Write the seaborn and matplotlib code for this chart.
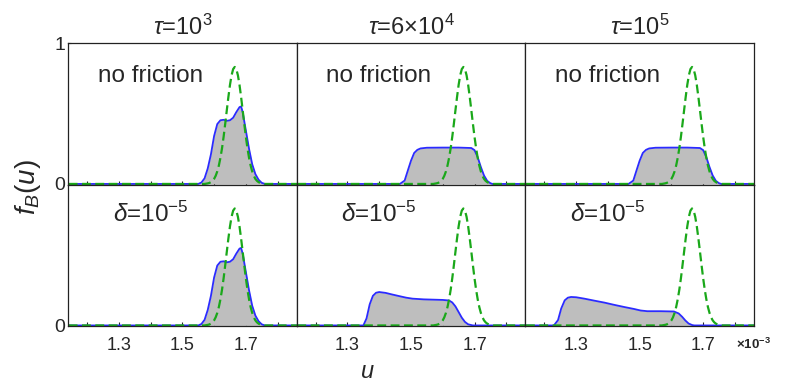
import matplotlib
matplotlib.use("Agg")
import matplotlib.pyplot as plt
import seaborn as sns

# u in units of 1e-3
green_u = [1.10, 1.57, 1.575, 1.58, 1.585, 1.59, 1.595, 1.60, 1.605, 1.61, 1.615,
           1.62, 1.625, 1.63, 1.635, 1.64, 1.645, 1.65, 1.655, 1.66, 1.665,
           1.67, 1.675, 1.68, 1.685, 1.69, 1.695, 1.70, 1.705, 1.71, 1.715,
           1.72, 1.725, 1.73, 1.735, 1.74, 1.745, 1.75, 1.755, 1.76, 1.90]
green_f = [0, 0, 0.002, 0.004, 0.007, 0.013, 0.022, 0.036, 0.058, 0.089, 0.131,
           0.186, 0.254, 0.335, 0.427, 0.523, 0.617, 0.703, 0.771, 0.815, 0.83,
           0.815, 0.771, 0.703, 0.617, 0.523, 0.427, 0.335, 0.254, 0.186, 0.131,
           0.089, 0.058, 0.036, 0.022, 0.013, 0.007, 0.004, 0.002, 0, 0]

# tau = 1e3 (same with and without friction)
early_u = [1.10, 1.55, 1.56, 1.57, 1.58, 1.59, 1.60, 1.61, 1.62, 1.63, 1.64,
           1.65, 1.66, 1.67, 1.68, 1.685, 1.69, 1.70, 1.71, 1.72, 1.73, 1.74,
           1.75, 1.76, 1.90]
early_f = [0, 0, 0.01, 0.04, 0.11, 0.21, 0.34, 0.425, 0.452, 0.455, 0.448,
           0.452, 0.47, 0.51, 0.545, 0.55, 0.51, 0.38, 0.25, 0.14, 0.07, 0.03,
           0.008, 0, 0]

# no friction, tau = 6e4 and 1e5
flat_u = [1.10, 1.465, 1.48, 1.49, 1.50, 1.51, 1.52, 1.53, 1.55, 1.60, 1.65,
          1.69, 1.70, 1.71, 1.72, 1.73, 1.74, 1.75, 1.757, 1.90]
flat_f = [0, 0, 0.024, 0.095, 0.165, 0.22, 0.242, 0.252, 0.257, 0.258, 0.258,
          0.255, 0.24, 0.19, 0.12, 0.06, 0.022, 0.005, 0, 0]

# delta = 1e-5, tau = 6e4
mid_u = [1.10, 1.35, 1.36, 1.37, 1.38, 1.39, 1.40, 1.42, 1.44, 1.465, 1.485,
         1.505, 1.54, 1.57, 1.60, 1.62, 1.63, 1.64, 1.65, 1.66, 1.67, 1.68,
         1.695, 1.90]
mid_f = [0, 0, 0.05, 0.15, 0.21, 0.232, 0.237, 0.231, 0.22, 0.207, 0.197,
         0.19, 0.185, 0.183, 0.181, 0.177, 0.163, 0.135, 0.095, 0.055, 0.025,
         0.008, 0, 0]

# delta = 1e-5, tau = 1e5
late_u = [1.10, 1.23, 1.243, 1.253, 1.264, 1.274, 1.284, 1.30, 1.326, 1.357,
          1.389, 1.42, 1.451, 1.482, 1.503, 1.524, 1.566, 1.608, 1.623, 1.634,
          1.644, 1.654, 1.665, 1.672, 1.90]
late_f = [0, 0, 0.038, 0.12, 0.178, 0.197, 0.202, 0.2, 0.19, 0.176,
          0.162, 0.146, 0.131, 0.117, 0.106, 0.101, 0.101, 0.099, 0.085, 0.061,
          0.035, 0.014, 0.003, 0, 0]

titles = [r"$\tau$=10$^{3}$", r"$\tau$=6$\times$10$^{4}$", r"$\tau$=10$^{5}$"]
row_labels = ["no friction", r"$\delta$=10$^{-5}$"]
panels = [[(early_u, early_f), (flat_u, flat_f), (flat_u, flat_f)],
          [(early_u, early_f), (mid_u, mid_f), (late_u, late_f)]]

sns.set_style("white")
plt.rcParams["font.family"] = ["Liberation Sans", "DejaVu Sans"]
plt.rcParams["mathtext.fontset"] = "custom"
plt.rcParams["mathtext.rm"] = "Liberation Sans"
plt.rcParams["mathtext.it"] = "Liberation Sans:italic"
plt.rcParams["mathtext.bf"] = "Liberation Sans:bold"

fig, axes = plt.subplots(2, 3, figsize=(7.89, 3.9), dpi=100)
fig.subplots_adjust(left=0.0862, right=0.9556, top=0.8897, bottom=0.1641,
                    wspace=0, hspace=0)

for r in range(2):
    for c in range(3):
        ax = axes[r, c]
        u, f = panels[r][c]
        ax.fill_between(u, f, 0, color="#bebebe", lw=0)
        sns.lineplot(x=u, y=f, ax=ax, color="#2b2bff", lw=1.3,
                     estimator=None, sort=False)
        sns.lineplot(x=green_u, y=green_f, ax=ax, color="#1aa81a", lw=1.6,
                     linestyle=(0, (4, 2)), estimator=None, sort=False)
        ax.set_xlim(1.14, 1.86)
        ax.set_ylim(-0.004, 1.0)
        ax.set_xlabel("")
        ax.set_ylabel("")
        ax.set_xticks([1.3, 1.5, 1.7])
        ax.set_xticks([1.2, 1.4, 1.6, 1.8], minor=True)
        ax.tick_params(axis="x", which="both", direction="in", length=3,
                       width=0.8, bottom=True, labelsize=13, pad=8)
        if r == 0:
            ax.tick_params(axis="x", labelbottom=False)
            ax.set_title(titles[c], fontsize=17, pad=6)
        else:
            ax.set_xticklabels(["1.3", "1.5", "1.7"])
        if c == 0:
            ax.set_yticks([0, 1] if r == 0 else [0])
            ax.set_yticklabels(["0", "1"] if r == 0 else ["0"])
            ax.tick_params(axis="y", direction="in", length=2, left=True,
                           labelsize=14, pad=2)
        else:
            ax.set_yticks([])
        ax.text(0.13 if r == 0 else 0.195, 0.77 if r == 0 else 0.79,
                row_labels[r], transform=ax.transAxes, fontsize=17.5,
                va="center")
        for s in ax.spines.values():
            s.set_color("#222222")
            s.set_linewidth(0.9)

fig.text(0.036, 0.52, r"$f_B(u)$", fontsize=20, rotation=90,
         ha="center", va="center")
fig.text(0.466, 0.046, r"$u$", fontsize=17, ha="center", va="center")
fig.text(0.933, 0.117, r"$\mathbf{\times10^{-3}}$", fontsize=9.5,
         ha="left", va="center")

fig.savefig("out.png", dpi=100)
